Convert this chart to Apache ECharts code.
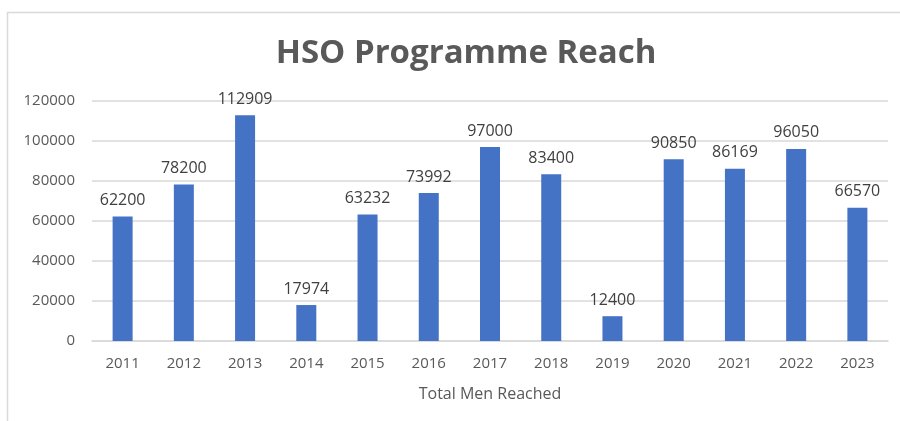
<!DOCTYPE html>
<html><head><meta charset="utf-8">
<script src="https://cdn.jsdelivr.net/npm/echarts@6/dist/echarts.min.js"></script>
<style>html,body{margin:0;padding:0;background:#fff}#c{width:900px;height:421px}</style>
</head><body><div id="c"></div>
<script>
const years = ['2011','2012','2013','2014','2015','2016','2017','2018','2019','2020','2021','2022','2023'];
const reached = [62200,78200,112909,17974,63232,73992,97000,83400,12400,90850,86169,96050,66570];
const yTicks = [0,20000,40000,60000,80000,100000,120000];

const chart = echarts.init(document.getElementById('c'), null, {renderer:'canvas'});
chart.setOption({
  animation:false,
  backgroundColor:'#fff',
  graphic:[{type:'rect',shape:{x:7.5,y:12.5,width:1000,height:1000},style:{fill:'none',stroke:'#d9d9d9',lineWidth:1.5},silent:true}],
  title:{text:'HSO Programme Reach',left:461,textAlign:'center',top:32,
    textStyle:{fontFamily:'Open Sans',fontWeight:'bold',fontSize:33,color:'#595959'}},
  grid:{left:92,right:12,top:101,bottom:80,containLabel:false},
  xAxis:{type:'category',data:years,name:'Total Men Reached',nameLocation:'middle',nameGap:45,
    nameTextStyle:{fontFamily:'Open Sans',fontSize:16,color:'#595959'},
    axisLine:{lineStyle:{color:'#d9d9d9',width:1.5}},axisTick:{show:false},
    axisLabel:{fontFamily:'Open Sans',fontSize:15,color:'#595959',margin:15}},
  yAxis:{type:'value',min:yTicks[0],max:yTicks[yTicks.length-1],interval:20000,
    axisLine:{show:false},axisTick:{show:false},
    splitLine:{lineStyle:{color:'#d9d9d9',width:1.5}},
    axisLabel:{fontFamily:'Open Sans',fontSize:15,color:'#595959',margin:17,formatter:v=>String(v)}},
  series:[{type:'bar',data:reached,barWidth:20,itemStyle:{color:'#4472c4'},
    label:{show:true,position:'top',distance:8,fontFamily:'Open Sans',fontSize:16,color:'#404040'}}]
});
</script></body></html>
